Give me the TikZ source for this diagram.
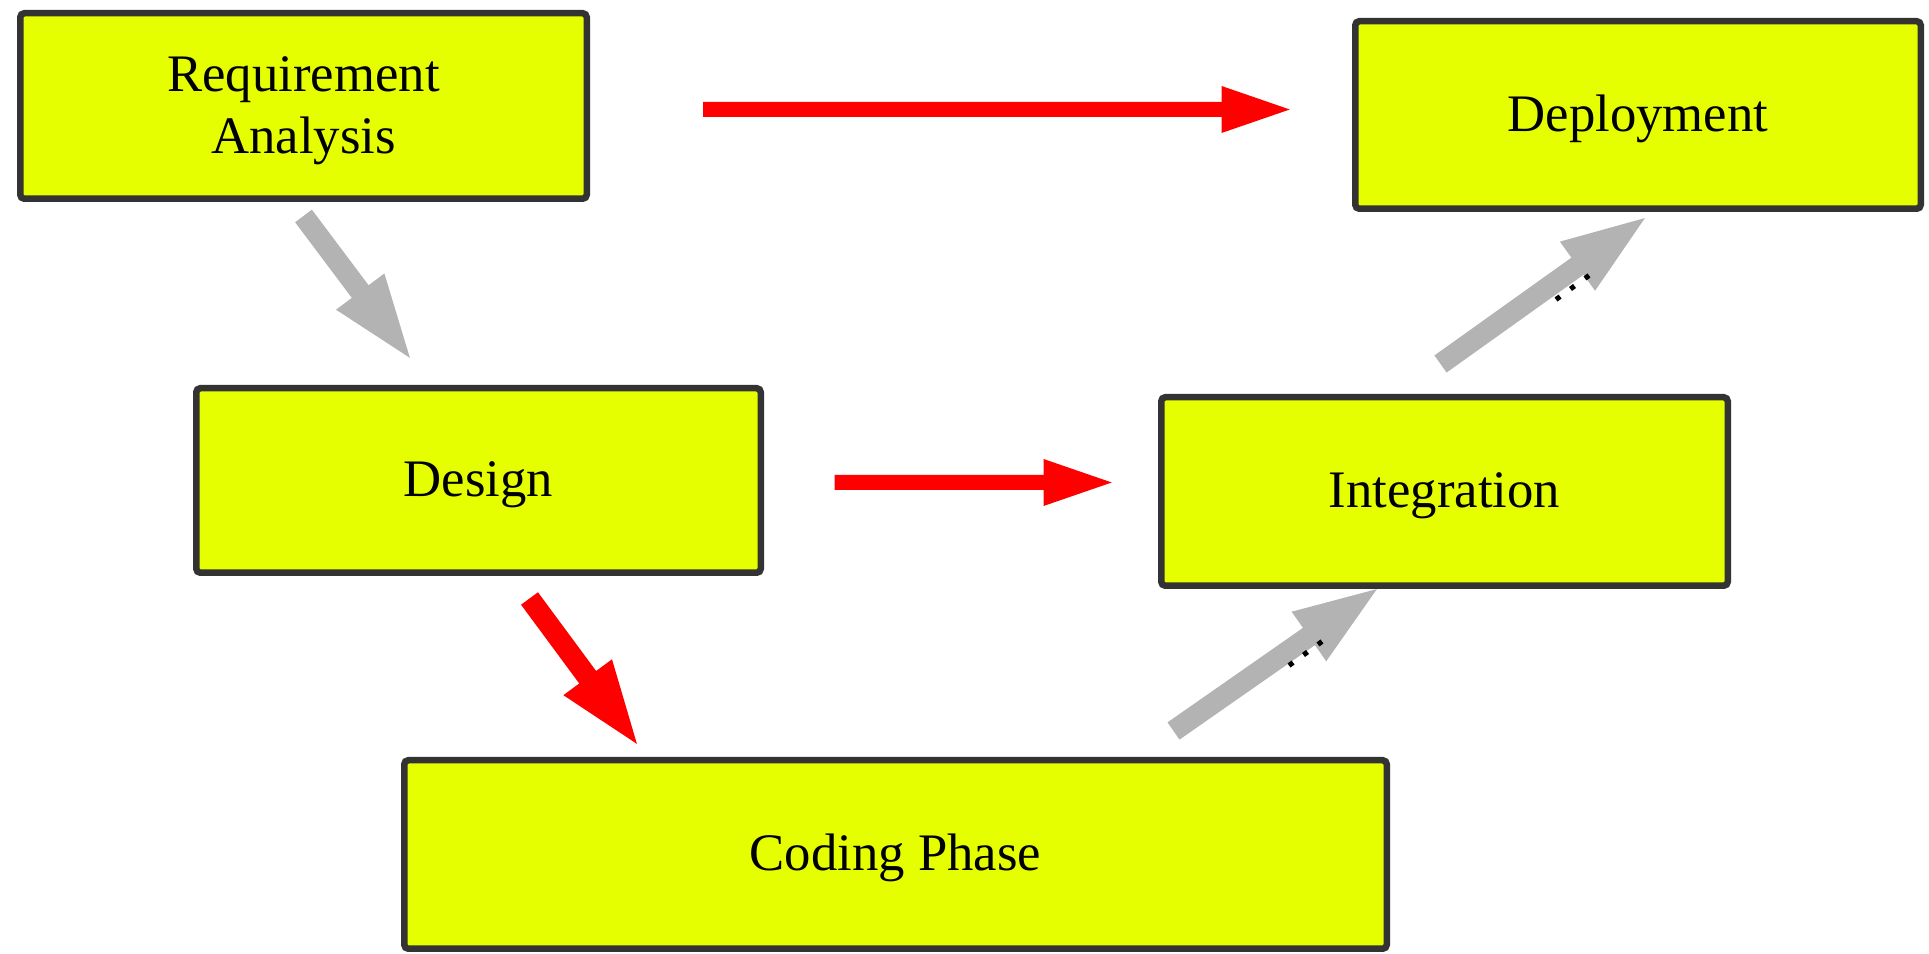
\documentclass[tikz,border=0pt]{standalone}
\usepackage{fontspec}
\setmainfont{Liberation Serif}
\usetikzlibrary{arrows.meta}

\definecolor{boxfill}{RGB}{229,255,0}
\definecolor{boxline}{RGB}{51,51,51}
\definecolor{flowgray}{RGB}{179,179,179}

\begin{document}
\begin{tikzpicture}[
  phase/.style={draw=boxline, fill=boxfill, line width=0.065cm, rounded corners=0.04cm, align=center, font=\fontsize{15}{17.5}\selectfont, text height=0.44cm, text depth=0.115cm},
  flow/.style={red, line width=0.15cm, shorten >=-0.5mm, -{Triangle[length=0.72cm,width=0.42cm]}},
  back/.style={line width=0.21cm, shorten >=-0.6mm, -{Triangle[length=0.89cm,width=0.53cm]}},
  ticks/.style={line width=0.05cm, dash pattern=on 0.05cm off 0.129cm}
]
\useasboundingbox (0,0) rectangle (19.29,-9.54);

\node[phase, minimum width=5.665cm, minimum height=1.855cm, text height=1.06cm] (req) at (3.035,-1.06) {Requirement\\Analysis};
\node[phase, minimum width=5.655cm, minimum height=1.875cm] (deploy) at (16.38,-1.15) {Deployment};
\node[phase, minimum width=5.645cm, minimum height=1.845cm] (design) at (4.785,-4.805) {Design};
\node[phase, minimum width=5.665cm, minimum height=1.885cm] (integ) at (14.445,-4.915) {Integration};
\node[phase, minimum width=9.825cm, minimum height=1.885cm] (coding) at (8.955,-8.545) {Coding Phase};

% straight hand-offs
\draw[flow] ([xshift=1.13cm,yshift=-0.35mm]req.east) -- ([xshift=-6.35mm,yshift=0.55mm]deploy.west);
\draw[flow] ([xshift=7.05mm,yshift=-0.2mm]design.east) -- ([xshift=-4.75mm,yshift=0.9mm]integ.west);

% down the left side, up the right side
\draw[back, flowgray] ([yshift=-1.4mm]req.south) -- ([xshift=2.17cm,yshift=2.7mm]design.north west);
\draw[back, red] ([xshift=5.1mm,yshift=-2.25mm]design.south) -- ([xshift=2.36cm,yshift=1.3mm]coding.north west);
\draw[back, flowgray] ([xshift=-2.165cm,yshift=2.6mm]coding.north east) -- ([xshift=2.19cm]integ.south west);
\draw[back, flowgray] ([xshift=2.825cm,yshift=3mm]integ.north west) -- ([xshift=2.93cm,yshift=-0.6mm]deploy.south west);

\draw[ticks] (12.89,-6.655) -- (13.22,-6.415);
\draw[ticks] (15.56,-2.995) -- (15.89,-2.755);
\end{tikzpicture}
\end{document}
